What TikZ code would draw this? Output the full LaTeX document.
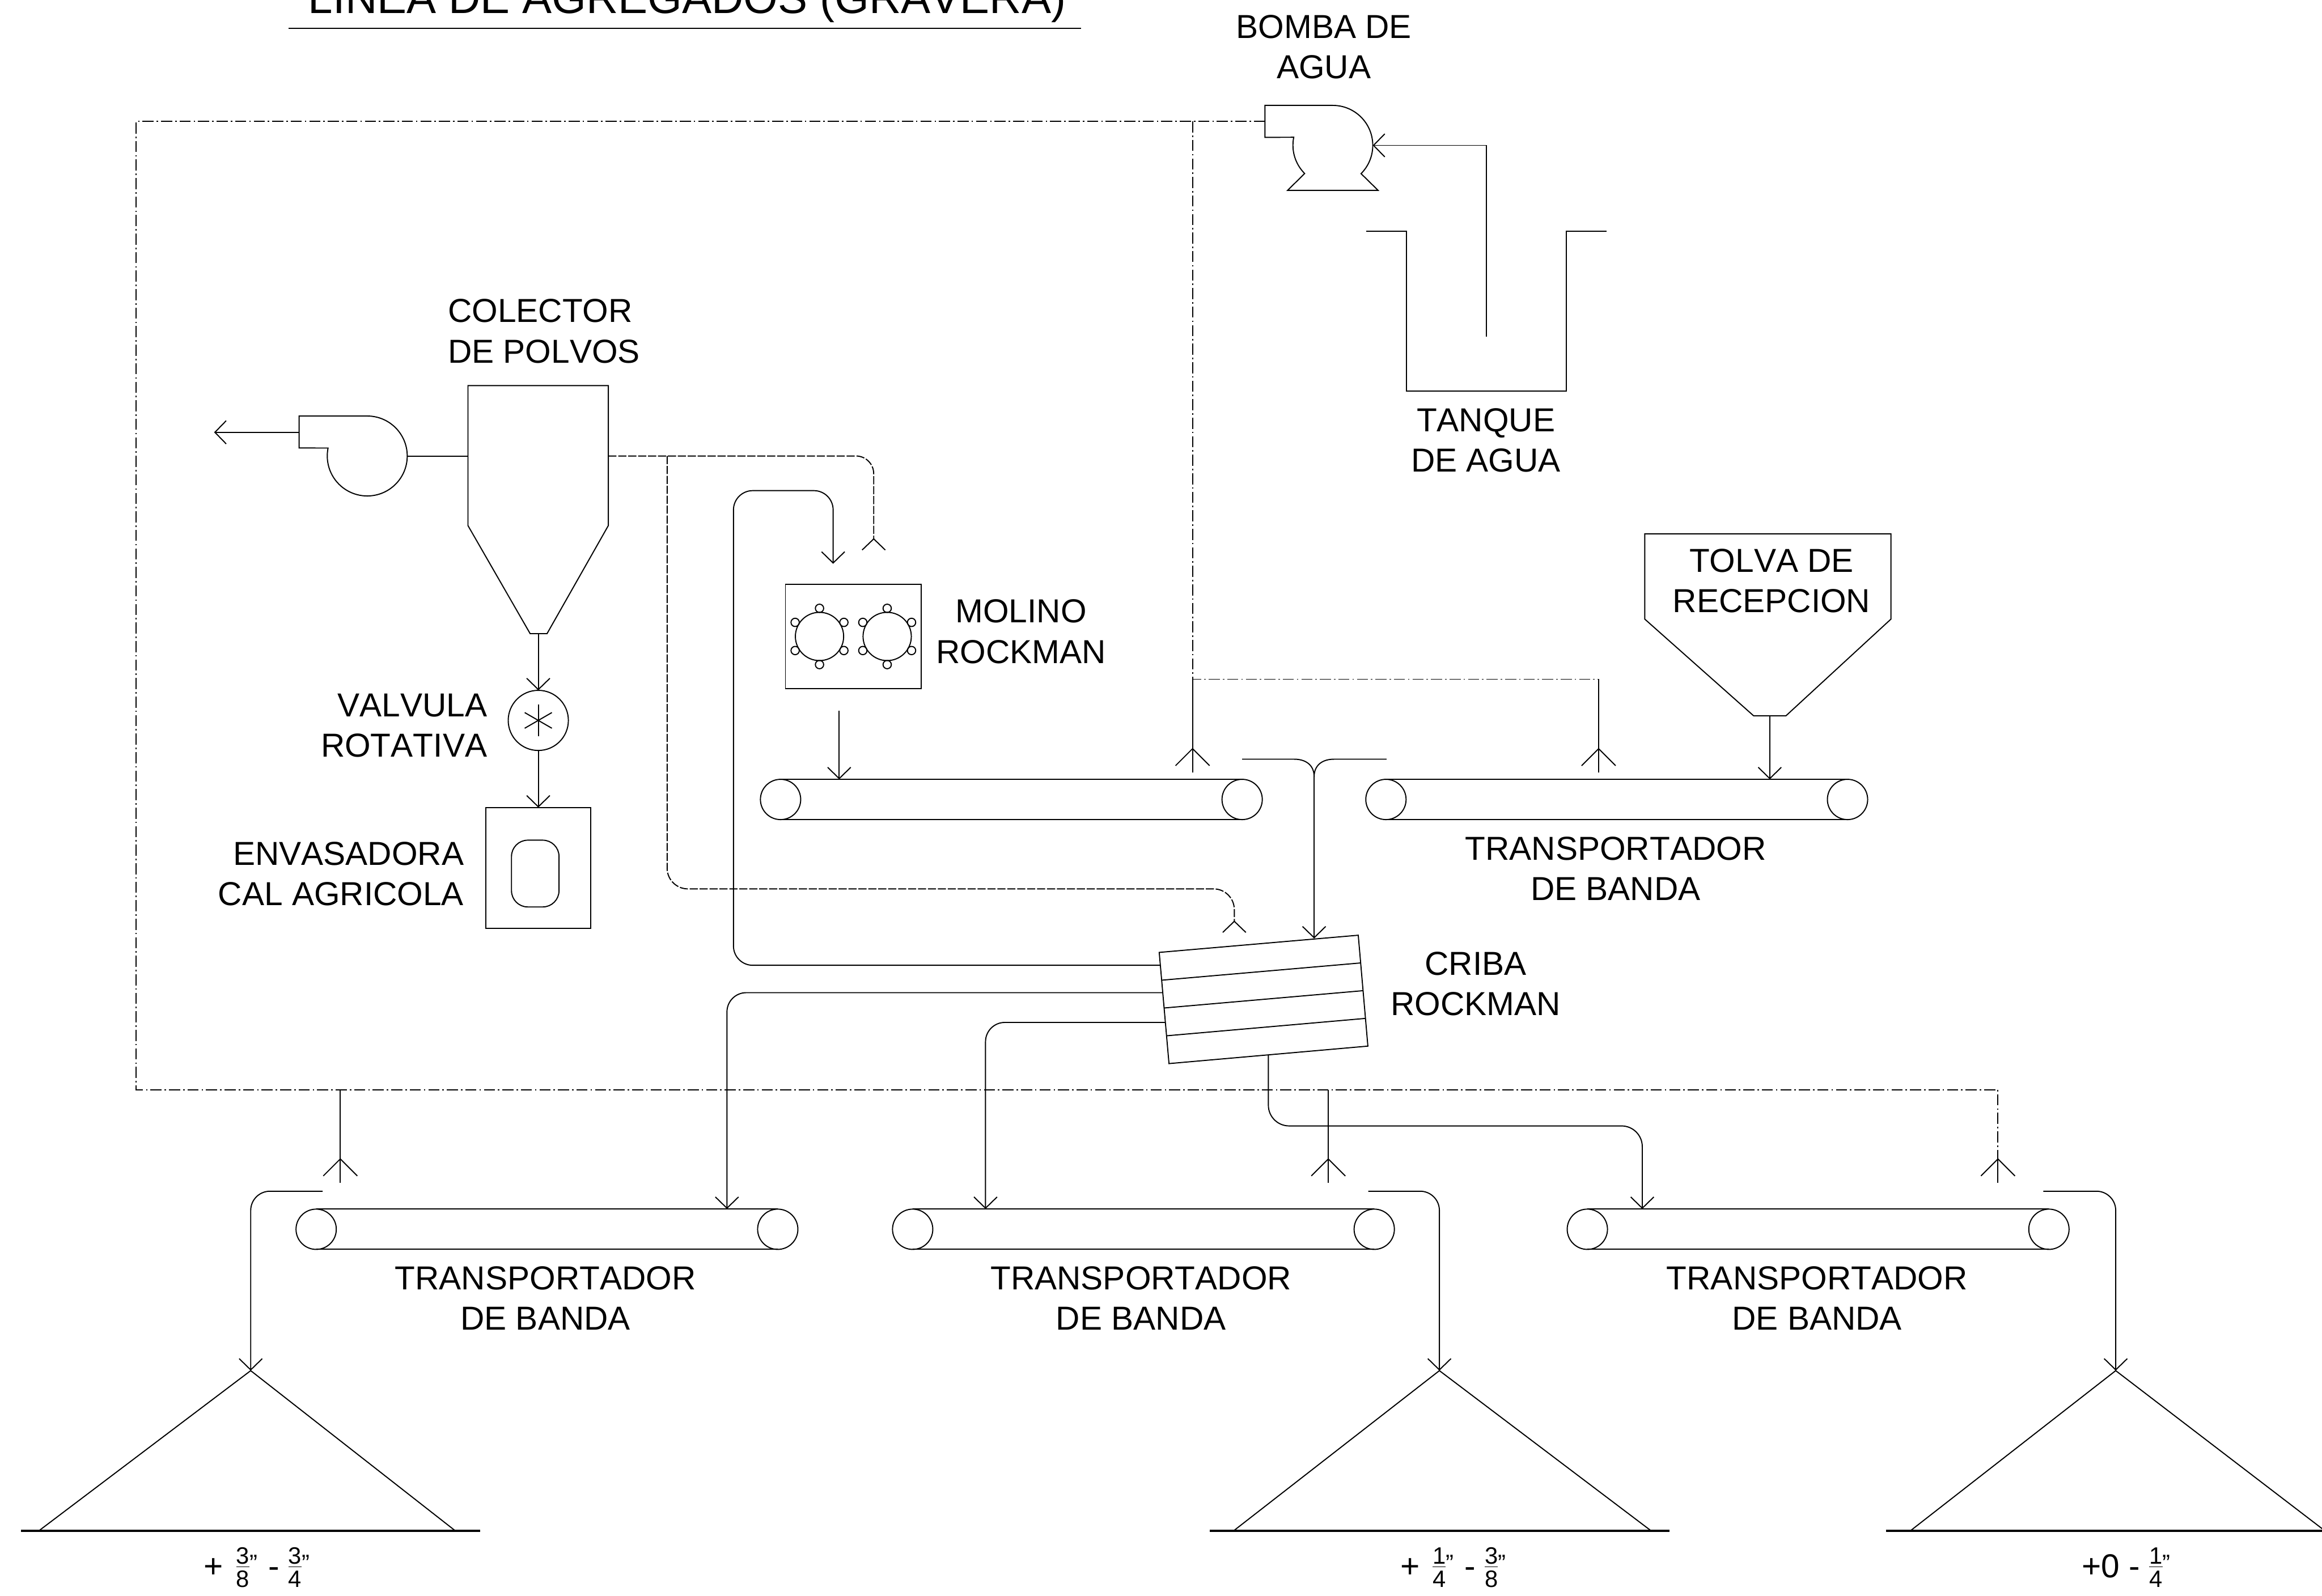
\documentclass[tikz,border=0pt]{standalone}
\usepackage{fontspec}
\setmainfont[Kerning=Off]{Liberation Sans}
\usetikzlibrary{arrows.meta,calc}

\newcommand{\fracfont}{\fontsize{4.55}{5}\selectfont}
\newcommand{\frc}[2]{{\fracfont\makebox[0pt][l]{\raisebox{2.6pt}{#1}}\makebox[0pt][l]{\rule[2.05pt]{0.556em}{0.16pt}}\raisebox{-1.8pt}{#2}\raisebox{1.2pt}{"}}}

\tikzset{
    lin/.style={line width=0.21pt},
    base/.style={line width=0.38pt},
    agua/.style={line width=0.21pt, dash pattern=on .075cm off .02cm on .01cm off .02cm},
    polvo/.style={line width=0.21pt, dash pattern=on .055cm off .012cm},
    flecha/.style={-{Straight Barb[length=.076cm,width=.156cm]}},
    caja/.style={draw, line width=0.21pt, inner sep=0pt, outer sep=0pt},
    etq/.style={font=\fontsize{6.38}{7.74}\selectfont, inner sep=0pt, align=center},
    tam/.style={font=\fontsize{6.38}{7.74}\selectfont, inner sep=0pt, anchor=base},
}

\begin{document}
\begin{tikzpicture}[x=0.01cm, y=-0.01cm]
\useasboundingbox (0,0) rectangle (1568,1077.7);
\clip (0,0) rectangle (1568,1077.7);

\def\largo{311.7} % distancia entre rodillos
\def\rod{13.6}    % radio del rodillo

% title
\node[font=\fontsize{8.5}{10}\selectfont, inner sep=0pt, anchor=base] (titulo) at (464,9) {LINEA DE AGREGADOS (GRAVERA)};
\coordinate (ti) at (195,19);
\coordinate (td) at (730,19);
\draw[lin] (ti) -- (td);

% labels
\node[etq, align=center] (lbomba) at (894,31.8) {BOMBA DE\\AGUA};
\node[etq] (ltanque) at (1003.4,297.4) {TANQUE\\DE AGUA};
\node[etq, align=left, anchor=west] (lcolector) at (301.8,223.7) {COLECTOR\\DE POLVOS};
\node[etq, align=right, anchor=east] (lvalvula) at (329.6,489.9) {VALVULA\\ROTATIVA};
\node[etq, align=right, anchor=east] (lenvasa) at (313.9,590.1) {ENVASADORA\\CAL AGRICOLA};
\node[etq] (lmolino) at (689.5,426.6) {MOLINO\\ROCKMAN};
\node[etq] (lcriba) at (996.5,664.4) {CRIBA\\ROCKMAN};
\node[etq] (ltolva) at (1196.3,392.3) {TOLVA DE\\RECEPCION};
\node[etq] (ltrans) at (1091,586.8) {TRANSPORTADOR\\DE BANDA};
\foreach \n/\x in {a/368.3, b/770.5, c/1227} {
    \node[etq] (ltrans\n) at (\x,876.8) {TRANSPORTADOR\\DE BANDA};
}

% belts
\foreach \n/\x/\y in {m/527.1/540, t/935.9/540, a/213.5/830.3, b/616.3/830.3, c/1071.9/830.3} {
    \coordinate (ri\n) at (\x,\y);
    \coordinate (rd\n) at (\x+\largo,\y);
    \draw[lin] (ri\n) circle [radius=\rod];
    \draw[lin] (rd\n) circle [radius=\rod];
    \draw[lin] (\x,\y-\rod) -- (\x+\largo,\y-\rod);
    \draw[lin] (\x,\y+\rod) -- (\x+\largo,\y+\rod);
}

% dust collector
\coordinate (colsal) at (363.5,428);
\draw[lin] (316,260.5) -- (410.8,260.5) -- (410.8,355) -- (369.4,428) -- (358,428) -- (316,355) -- cycle;
\draw[lin] (202,281) -- (248,281) arc [start angle=-90, end angle=191.5, radius=27] -- (202,302.6) -- cycle;
\coordinate (fanE) at (275,308);
\coordinate (colO) at (316,308);
\draw[lin] (fanE) -- (colO);
\coordinate (fanO) at (202,292);
\coordinate (fanS) at (144.6,292);
\draw[lin, flecha] (fanO) -- (fanS);

% rotary valve and bagger
\node[caja, circle, minimum size=.406cm] (valvula) at (363.5,486.6) {};
\foreach \a in {90,30,150} {
    \draw[lin] (363.5,486.6) ++(\a:10.6) -- ++(\a+180:21.2);
}
\node[caja, minimum width=.706cm, minimum height=.814cm] (envasa) at (363.5,586.2) {};
\draw[lin, rounded corners=.11cm] (345.4,567.5) rectangle (377.5,612.6);
\draw[lin, flecha] (colsal) -- (valvula.north);
\draw[lin, flecha] (valvula.south) -- (envasa.north);

% mill
\node[caja, minimum width=.918cm, minimum height=.703cm] (molino) at (576.3,429.95) {};
\foreach \x in {553.4, 599.1} {
    \draw[lin] (\x,429.9) circle [radius=16.3];
    \foreach \a in {30,90,...,330} {
        \draw[lin] (\x,429.9) ++(\a:19) circle [radius=2.8];
    }
}
\coordinate (molS) at (566.7,480);
\coordinate (entB) at (566.7,526.4);
\draw[lin, flecha] (molS) -- (entB);

% hopper
\draw[lin] (1110.7,360.6) -- (1276.9,360.6) -- (1276.9,418.2) -- (1206,483.5) -- (1184.2,483.5) -- (1110.7,418.2) -- cycle;
\coordinate (tolS) at (1195.1,483.5);
\coordinate (tolE) at (1195.1,526.4);
\draw[lin, flecha] (tolS) -- (tolE);

% pump and tank
\draw[lin] (854.2,71.2) -- (900,71.2) arc [start angle=-90, end angle=45, radius=27] -- (930.6,128.6) -- (869.5,128.6) -- (881,117.2) arc [start angle=135, end angle=191.5, radius=27] -- (854.2,92.8) -- cycle;
\draw[lin] (922.7,156.1) -- (949.9,156.1) -- (949.9,264.2) -- (1057.8,264.2) -- (1057.8,156.1) -- (1085,156.1);
\coordinate (tomaT) at (1003.6,227.5);
\coordinate (bomE) at (927,98.2);
\draw[lin, flecha] (tomaT) |- (bomE);

% screen
\coordinate (c1) at (782.8,643.3);
\coordinate (c2) at (917.2,631.7);
\coordinate (c3) at (923.7,706.6);
\coordinate (c4) at (789.4,718.4);
\draw[lin] (c1) -- (c2) -- (c3) -- (c4) -- cycle;
\foreach \f in {.25,.5,.75} {
    \draw[lin] ($(c1)!\f!(c4)$) -- ($(c2)!\f!(c3)$);
}

% material lines
\coordinate (salR) at (783.4,652);
\coordinate (salA) at (785,670.5);
\coordinate (salB) at (786.6,690.6);
\coordinate (salC) at (856.5,712.5);
\coordinate (recA) at (495.3,331.4);
\coordinate (entM) at (562.6,380.8);
\coordinate (entA) at (490.9,816.6);
\coordinate (entBb) at (665.5,816.6);
\coordinate (entC) at (1109,816.6);
\draw[lin, flecha, rounded corners=.13cm] (salR) -| (recA) -| (entM);
\draw[lin, flecha, rounded corners=.13cm] (salA) -| (entA);
\draw[lin, flecha, rounded corners=.13cm] (salB) -| (entBb);
\draw[lin, flecha, rounded corners=.14cm] (salC) |- (1050,760.5) -| (entC);

% feed to the screen
\coordinate (entCr) at (887.4,633.9);
\coordinate (bifu) at (887.4,524.6);
\coordinate (alI) at (838.8,512.8);
\coordinate (alD) at (936.3,512.8);
\draw[lin] (alI) -- (874,512.8) .. controls (882,512.8) and (887.4,517) .. (bifu);
\draw[lin] (alD) -- (900.8,512.8) .. controls (892.8,512.8) and (887.4,517) .. (bifu);
\draw[lin, flecha] (bifu) -- (entCr);

% dust lines
\coordinate (polvoA) at (410.8,308);
\coordinate (polvoB) at (450.5,308);
\coordinate (polvoM) at (590,364);
\coordinate (polvoC) at (833.5,622.3);
\draw[polvo, rounded corners=.12cm] (polvoA) -| (polvoM);
\draw[polvo, rounded corners=.14cm] (polvoB) |- (833.5,600.4) -- (polvoC);
\foreach \w in {polvoM, polvoC} {
    \draw[lin] ($(\w)+(-7.8,7.5)$) -- (\w) -- ($(\w)+(7.8,7.5)$);
}

% water lines
\coordinate (bomO) at (854.2,82);
\coordinate (aguaF) at (1349.2,782.8);
\coordinate (aguaR) at (805.3,458.8);
\coordinate (aguaT) at (1079.5,458.8);
\draw[agua] (bomO) -- (92,82) -- (92,736) -- (1349.2,736) -- (aguaF);
\draw[agua] (805.3,82) -- (aguaR) -- (aguaT);
\foreach \n/\x/\y/\yy in {m/805.3/458.8/505.7, t/1079.5/458.8/505.7, a/229.8/736/782.8, b/897/736/782.8, c/1349.2/782.8/782.8} {
    \coordinate (rieI\n) at (\x,\y);
    \coordinate (rieF\n) at (\x,\yy+16.2);
    \draw[lin] (rieI\n) -- (rieF\n);
    \draw[lin] (\x-11.5,\yy+11.5) -- (\x,\yy) -- (\x+11.5,\yy+11.5);
}

% stockpiles
\foreach \n/\x/\d/\ci/\cd/\bi/\bd in {a/169.3/217.9/26.2/307.5/14.2/324.3, b/972/924/833/1115/817/1127.3, c/1428.7/1379.8/1290/1570/1273.5/1585} {
    \coordinate (pila\n) at (\x,925.8);
    \coordinate (desc\n) at (\d,804.6);
    \draw[lin, flecha, rounded corners=.13cm] (desc\n) -| (pila\n);
    \draw[lin] (\ci,1034) -- (pila\n) -- (\cd,1034);
    \draw[base] (\bi,1034) -- (\bd,1034);
}

% sizes
\node[tam] (tama) at (173.4,1065.7) {+\kern.7pt{} \frc{3}{8}\kern.3pt{} - \frc{3}{4}};
\node[tam] (tamb) at (981.2,1065.7) {+\kern.7pt{} \frc{1}{4}\kern.3pt{} - \frc{3}{8}};
\node[tam] (tamc) at (1435.7,1065.7) {+0 - \frc{1}{4}};

\end{tikzpicture}
\end{document}
